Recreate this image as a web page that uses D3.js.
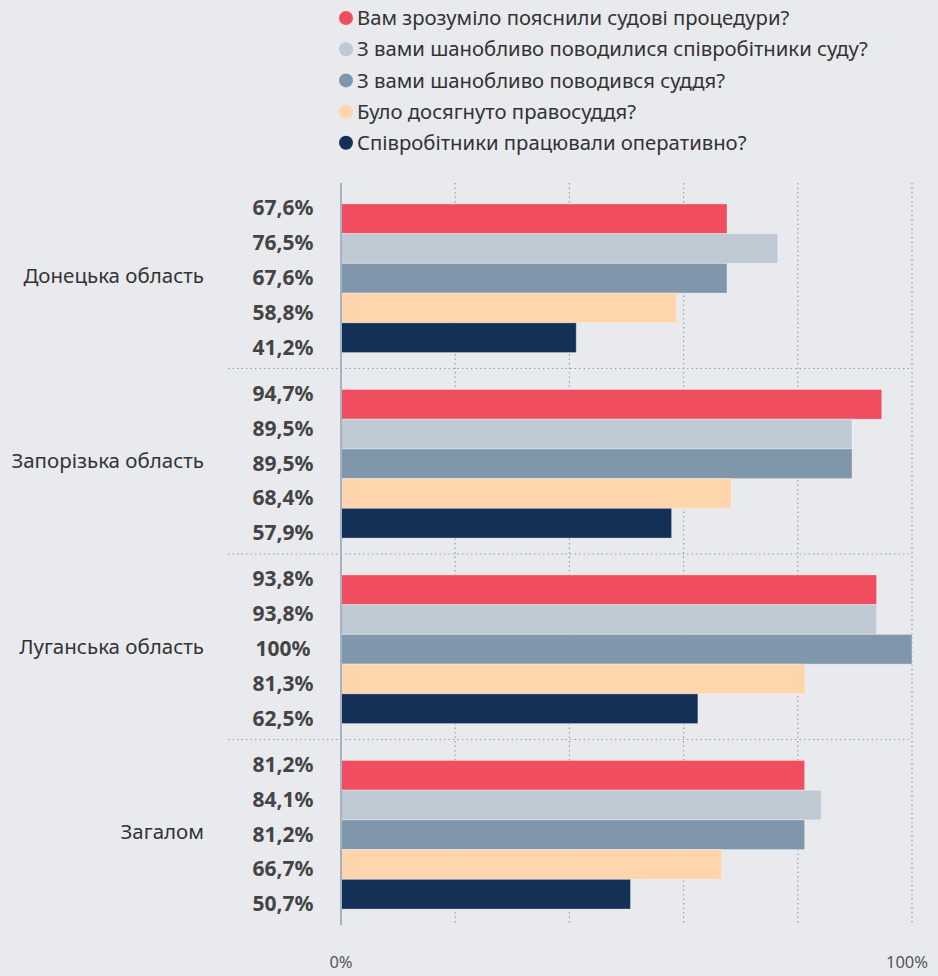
<!DOCTYPE html>
<head>
<meta charset="utf-8">
<script src="https://d3js.org/d3.v7.min.js"></script>
<style>
    body{margin:0;background:#e9eaee;}
    svg{display:block;font-family:"Noto Sans",sans-serif;}
</style>
</head>
<body>
<div id="container"></div>
<script>
    var regions = ['Донецька область','Запорізька область','Луганська область','Загалом'];
    var questions = [
        'Вам зрозуміло пояснили судові процедури?',
        'З вами шанобливо поводилися співробітники суду?',
        'З вами шанобливо поводився суддя?',
        'Було досягнуто правосуддя?',
        'Співробітники працювали оперативно?'
    ];
    var colors = ['#f04d5e','#bfc9d3','#8097ab','#ffd5ad','#143057'];
    // значення по кожному питанню, у порядку областей
    var explained = [67.6, 94.7, 93.8, 81.2];
    var staffRespect = [76.5, 89.5, 93.8, 84.1];
    var judgeRespect = [67.6, 89.5, 100, 81.2];
    var justice = [58.8, 68.4, 81.3, 66.7];
    var quick = [41.2, 57.9, 62.5, 50.7];
    var series = [explained, staffRespect, judgeRespect, justice, quick];
    var labels = [
        ['67,6%','94,7%','93,8%','81,2%'],
        ['76,5%','89,5%','93,8%','84,1%'],
        ['67,6%','89,5%','100%','81,2%'],
        ['58,8%','68,4%','81,3%','66,7%'],
        ['41,2%','57,9%','62,5%','50,7%']
    ];
    var ticks = [0,20,40,60,80,100];

    var W = 938, H = 976;
    var svg = d3.select('#container').append('svg').attr('width',W).attr('height',H);

    var x = d3.scaleLinear().domain([0,100]).range([341,912]);
    var y0 = d3.scaleBand().domain(regions).range([183,925]).padding(0);
    var y1 = d3.scaleBand().domain(d3.range(questions.length)).range([2.5,y0.bandwidth()+2.5]).paddingInner(0).paddingOuter(0.62);
    // підписи значень розставлені ширше, ніж самі стовпчики
    var yl = d3.scaleBand().domain(d3.range(questions.length)).range([2,y0.bandwidth()+2]).paddingInner(0).paddingOuter(0.165);

    //легенда
    var leg = svg.append('g');
    questions.forEach(function(q,i){
        var ly = 18 + i*31.2;
        leg.append('circle').attr('cx',346).attr('cy',ly).attr('r',7).attr('fill',colors[i]);
        leg.append('text').attr('x',357).attr('y',ly).attr('dy','0.35em')
            .attr('font-size',20.3).attr('fill','#333').text(q);
    });

    //сітка
    svg.append('g').selectAll('line').data(ticks.slice(1)).enter().append('line')
        .attr('x1',d=>x(d)).attr('x2',d=>x(d)).attr('y1',183).attr('y2',925)
        .attr('stroke','#8ea2b4').attr('stroke-width',1.2).attr('stroke-dasharray','1.5,3');
    svg.append('g').selectAll('line').data(regions.slice(1)).enter().append('line')
        .attr('x1',228).attr('x2',912).attr('y1',d=>y0(d)).attr('y2',d=>y0(d))
        .attr('stroke','#8ea2b4').attr('stroke-width',1.2).attr('stroke-dasharray','1.5,3');

    //стовпчики
    var groups = svg.append('g').selectAll('g').data(regions).enter().append('g')
        .attr('transform',d=>'translate(0,'+y0(d)+')');
    groups.each(function(r,ri){
        var g = d3.select(this);
        series.forEach(function(s,si){
            g.append('rect').attr('x',x(0)).attr('y',y1(si))
                .attr('width',x(s[ri])-x(0)).attr('height',y1.bandwidth())
                .attr('fill',colors[si]).attr('stroke','rgba(255,255,255,0.35)').attr('stroke-width',1);
            g.append('text').attr('x',283).attr('y',yl(si)+yl.bandwidth()/2).attr('dy','0.35em')
                .attr('text-anchor','middle').attr('font-size',21).attr('font-weight','bold')
                .attr('fill','#444').text(labels[si][ri]);
        });
        g.append('text').attr('x',204).attr('y',y0.bandwidth()/2).attr('dy','0.35em')
            .attr('text-anchor','end').attr('font-size',20.5).attr('fill','#333').text(r);
    });

    //вісь
    svg.append('line').attr('x1',x(0)).attr('x2',x(0)).attr('y1',183).attr('y2',925)
        .attr('stroke','#a3b3c3').attr('stroke-width',2);
    svg.append('text').attr('x',x(0)).attr('y',968).attr('text-anchor','middle')
        .attr('font-size',16.5).attr('fill','#555').text('0%');
    svg.append('text').attr('x',x(100)-5).attr('y',968).attr('text-anchor','middle')
        .attr('font-size',16.5).attr('fill','#555').text('100%');
</script>
</body>
